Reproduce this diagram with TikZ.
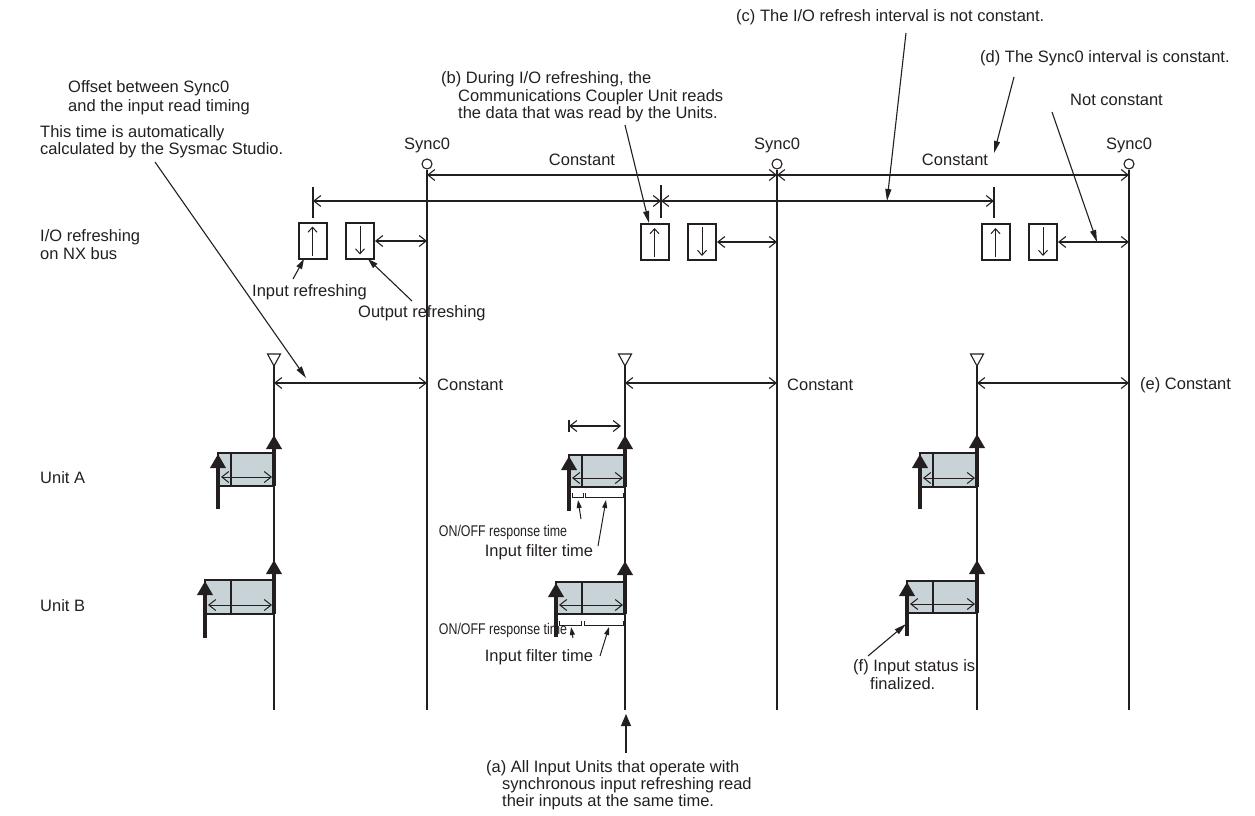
\documentclass[tikz,border=0pt]{standalone}
\usepackage{fontspec}
\setmainfont{Liberation Sans}
\usetikzlibrary{arrows.meta}
\definecolor{ln}{RGB}{35,31,32}
\definecolor{boxfill}{RGB}{200,211,215}
\tikzset{
  lbl/.style={font=\fontsize{16.5}{19}\selectfont, text=ln, inner sep=0pt, anchor=west},
  clbl/.style={font=\fontsize{16.5}{19}\selectfont, text=ln, inner sep=0pt},
  small/.style={font=\fontsize{15.5}{17}\selectfont, text=ln, inner sep=0pt},
  vline/.style={draw=ln, line width=1.4pt},
  tick/.style={draw=ln, line width=1.1pt},
  dim/.style={draw=ln, line width=1.1pt, {Straight Barb[length=7pt,width=11pt]}-{Straight Barb[length=7pt,width=11pt]}},
  ptr/.style={draw=ln, line width=1.1pt, -{Triangle[length=12pt,width=6pt]}},
  sptr/.style={draw=ln, line width=1pt, -{Triangle[length=8pt,width=5pt]}},
  iobox/.style={draw=ln, line width=2pt, minimum width=28pt, minimum height=36pt, inner sep=0pt},
  ioarr/.style={draw=ln, line width=1pt, -{Straight Barb[length=5pt,width=9pt]}},
  blkline/.style={draw=ln, line width=2.2pt},
  thickarr/.style={draw=ln, line width=4pt, -{Triangle[length=14pt,width=15pt]}},
  syncmark/.style={circle, draw=ln, line width=1.1pt, minimum size=10pt, inner sep=0pt},
  trimark/.style={draw=ln, line width=1.1pt, fill=white},
}
\newcommand{\ublk}[7]{%
  \fill[boxfill] (#1,#4) rectangle (#3,#5);
  \draw[blkline] (#1,#4) rectangle (#3,#5);
  \draw[blkline] (#2,#4) -- (#2,#5);
  \draw[dim, line width=1pt] (#1+3,#5-9) -- (#3-2,#5-9);
  \draw[thickarr] (#1,#6) -- (#1,#4+1);
  \draw[thickarr] (#3,#5) -- (#3,#7);
}
\begin{document}
\begin{tikzpicture}[x=1pt,y=-1pt]
\useasboundingbox (0,0) rectangle (1255,816);

% ---------- Sync0 lines ----------
\foreach \n/\x in {1/427,2/777,3/1129}{
  \node[clbl] (sl\n) at (\x,145) {Sync0};
  \node[syncmark] (sc\n) at (\x,164) {};
  \coordinate (sb\n) at (\x,710);
  \draw[vline] (sc\n.south) -- (sb\n);
}
% ---------- input read timing lines ----------
\foreach \n/\x in {1/274,2/625,3/977}{
  \coordinate (tt\n) at (\x,366);
  \coordinate (tb\n) at (\x,710);
  \draw[trimark] (\x-6.5,354) -- (\x+6.5,354) -- (tt\n) -- cycle;
  \draw[vline] (tt\n) -- (tb\n);
}

% ---------- row 1: Sync0 interval ----------
\coordinate (r1a) at (427,175); \coordinate (r1b) at (777,175); \coordinate (r1c) at (1129,175);
\draw[dim] (r1a) -- (r1b);
\draw[dim] (r1b) -- (r1c);
\node[clbl] (k1) at (582,160) {Constant};
\node[clbl] (k2) at (955,160) {Constant};

% ---------- row 2: I/O refresh interval ----------
\coordinate (r2a) at (313,201); \coordinate (r2b) at (661,201); \coordinate (r2c) at (994,201);
\draw[tick] (313,187) -- (313,218);
\draw[tick] (661,185) -- (661,218);
\draw[tick] (994,187) -- (994,218);
\draw[dim] (r2a) -- (r2b);
\draw[dim] (r2b) -- (r2c);

% ---------- I/O refresh boxes ----------
\node[iobox] (in1) at (312.5,240.5) {};
\node[iobox] (out1) at (360,240.5) {};
\node[iobox] (in2) at (654.5,242) {};
\node[iobox] (out2) at (702,242) {};
\node[iobox] (in3) at (995.5,242) {};
\node[iobox] (out3) at (1043,242) {};
\foreach \b in {in1,in2,in3}{
  \draw[ioarr] ([yshift=4pt]\b.south) -- ([yshift=-5pt]\b.north);
}
\foreach \b in {out1,out2,out3}{
  \draw[ioarr] ([yshift=-4pt]\b.north) -- ([yshift=5pt]\b.south);
}
\coordinate (o1) at (427,241); \coordinate (o2) at (777,242); \coordinate (o3) at (1129,242);
\draw[dim] (out1.east |- o1) -- (o1);
\draw[dim] (out2.east |- o2) -- (o2);
\draw[dim] (out3.east |- o3) -- (o3);

% ---------- row 383 ----------
\foreach \n/\a/\b in {1/274/427,2/625/777,3/977/1129}{
  \coordinate (ha\n) at (\a,383); \coordinate (hb\n) at (\b,383);
  \draw[dim] (ha\n) -- (hb\n);
}
\node[lbl] (c1) at (437,385) {Constant};
\node[lbl] (c2) at (787,385) {Constant};
\node[lbl] (c3) at (1140,385) {(e) Constant};

% ---------- left labels ----------
\node[lbl] (off1) at (68,88) {Offset between Sync0};
\node[lbl] (off2) at (68,107) {and the input read timing};
\node[lbl] (tm1) at (40,133) {This time is automatically};
\node[lbl] (tm2) at (40,150) {calculated by the Sysmac Studio.};
\node[lbl] (io1) at (40,237) {I/O refreshing};
\node[lbl] (io2) at (40,254) {on NX bus};
\node[lbl] (ua) at (40,478) {Unit A};
\node[lbl] (ub) at (40,606) {Unit B};
\node[lbl] (inr) at (252,292) {Input refreshing};
\node[lbl] (outr) at (358,313) {Output refreshing};

% ---------- top labels ----------
\node[lbl] (lb1) at (441,79) {(b) During I/O refreshing, the};
\node[lbl] (lb2) at (458,97) {Communications Coupler Unit reads};
\node[lbl] (lb3) at (458,114) {the data that was read by the Units.};
\node[lbl] (lc) at (736,17) {(c) The I/O refresh interval is not constant.};
\node[lbl] (ld) at (980,58) {(d) The Sync0 interval is constant.};
\node[lbl] (lnc) at (1070,100) {Not constant};

% ---------- unit blocks ----------
\ublk{218}{231}{274}{453}{486}{509}{435}
\ublk{569}{582}{625}{455}{487}{511}{435}
\ublk{920}{933}{977}{453}{487}{509}{434}
\ublk{205}{231}{274}{580}{614}{638}{560}
\ublk{556}{582}{625}{582}{614}{637}{561}
\ublk{907}{933}{977}{581}{613}{636}{560}

% small dimension above block A2
\coordinate (sd1) at (569,426); \coordinate (sd2) at (621,426);
\draw[tick] (569,420) -- (569,432);
\draw[dim] (sd1) -- (sd2);

% brackets
\draw[tick, line width=1pt] (572,493) -- (572,497) -- (583,497) -- (583,493);
\draw[tick, line width=1pt] (585,493) -- (585,497) -- (623,497) -- (623,493);
\draw[tick, line width=1pt] (559,621) -- (559,625) -- (581,625) -- (581,621);
\draw[tick, line width=1pt] (584,621) -- (584,625) -- (623,625) -- (623,621);

\node[small] (onA) at (503,532) {\scalebox{0.8}[1]{ON/OFF response time}};
\node[clbl] (ifA) at (539,552) {Input filter time};
\node[small] (onB) at (503,630) {\scalebox{0.8}[1]{ON/OFF response time}};
\node[clbl] (ifB) at (539,657) {Input filter time};

% ---------- bottom labels ----------
\node[lbl] (lf1) at (853,667) {(f) Input status is};
\node[lbl] (lf2) at (870,684) {finalized.};
\node[lbl] (la1) at (486,768) {(a) All Input Units that operate with};
\node[lbl] (la2) at (502,785) {synchronous input refreshing read};
\node[lbl] (la3) at (502,802) {their inputs at the same time.};

% ---------- pointer arrows ----------
\coordinate (p1s) at (155,162); \coordinate (p1e) at (306,378);
\draw[ptr] (p1s) -- (p1e);
\coordinate (p2s) at (293,279); \coordinate (p2e) at (304,259);
\draw[ptr, -{Triangle[length=10pt,width=6pt]}] (p2s) -- (p2e);
\coordinate (p3s) at (412,301); \coordinate (p3e) at (368,259);
\draw[ptr, -{Triangle[length=10pt,width=6pt]}] (p3s) -- (p3e);
\coordinate (p4s) at (625,125); \coordinate (p4e) at (649,223);
\draw[ptr] (p4s) -- (p4e);
\coordinate (p5s) at (906,33); \coordinate (p5e) at (887,201);
\draw[ptr] (p5s) -- (p5e);
\coordinate (p6s) at (1014,77); \coordinate (p6e) at (994,153);
\draw[ptr] (p6s) -- (p6e);
\coordinate (p7s) at (1052,112); \coordinate (p7e) at (1097,242);
\draw[ptr] (p7s) -- (p7e);
\coordinate (p8s) at (581,519); \coordinate (p8e) at (578,500);
\draw[sptr] (p8s) -- (p8e);
\coordinate (p9s) at (598,546); \coordinate (p9e) at (606,500);
\draw[sptr] (p9s) -- (p9e);
\coordinate (p10s) at (573,638); \coordinate (p10e) at (571,627);
\draw[sptr] (p10s) -- (p10e);
\coordinate (p11s) at (600,656); \coordinate (p11e) at (609,627);
\draw[sptr] (p11s) -- (p11e);
\coordinate (p12s) at (868,656); \coordinate (p12e) at (906,624);
\draw[ptr] (p12s) -- (p12e);
\coordinate (p13s) at (626,753); \coordinate (p13e) at (626,714);
\draw[ptr, -{Triangle[length=12pt,width=10pt]}] (p13s) -- (p13e);
\end{tikzpicture}
\end{document}
